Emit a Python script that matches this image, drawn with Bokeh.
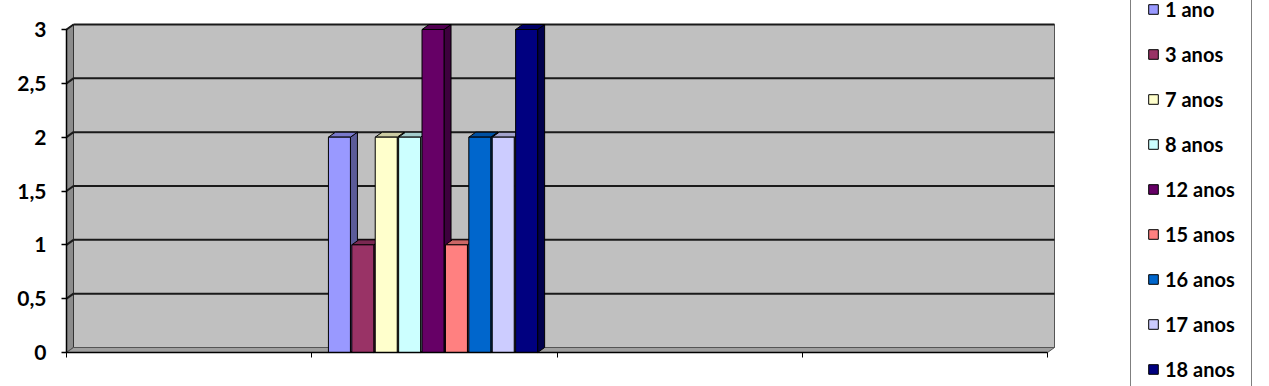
from bokeh.plotting import figure
from bokeh.models import FixedTicker, Legend, LegendItem, ColumnDataSource
from bokeh.embed import file_html
from bokeh.resources import INLINE

# ---- data ----
series = ["1 ano", "3 anos", "7 anos", "8 anos", "12 anos", "15 anos", "16 anos", "17 anos", "18 anos"]
values = [2, 1, 2, 2, 3, 1, 2, 2, 3]
colors = ["#9999FF", "#993366", "#FFFFCC", "#CCFFFF", "#660066", "#FF8080", "#0066CC", "#CCCCFF", "#000080"]
n_categories = 4
data_category_index = 1          # data sits in the 2nd (unlabelled) category
y_ticks = [0, 0.5, 1, 1.5, 2, 2.5, 3]
y_tick_labels = ["0", "0,5", "1", "1,5", "2", "2,5", "3"]
y_max = 3

# ---- layout constants (pixels) ----
W, H = 1269, 386
ORIGIN_X, ORIGIN_Y = 66, 352            # pixel position of (0, 0)
PX_X = (1047 - 66) / n_categories       # px per category unit
PX_Y = (352 - 29) / y_max               # px per value unit
DEPTH_X, DEPTH_Y = 7, 5                 # 3D depth in px
dx, dy = DEPTH_X / PX_X, DEPTH_Y / PX_Y
BAR_W = 22 / PX_X
BAR_STEP = 23.4 / PX_X

x_start, x_end = -ORIGIN_X / PX_X, (W - ORIGIN_X) / PX_X
y_start, y_end = -(H - ORIGIN_Y) / PX_Y, ORIGIN_Y / PX_Y


def shade(hexcol, f):
    r, g, b = int(hexcol[1:3], 16), int(hexcol[3:5], 16), int(hexcol[5:7], 16)
    return "#%02x%02x%02x" % (int(r * f), int(g * f), int(b * f))


p = figure(width=W, height=H, output_backend="svg", toolbar_location=None,
           x_range=(x_start, x_end), y_range=(y_start, y_end),
           min_border_left=0, min_border_right=0, min_border_top=0, min_border_bottom=0)
p.outline_line_color = None
p.grid.visible = False
p.background_fill_color = "white"
p.border_fill_color = "white"

# walls
p.quad(left=[dx], right=[n_categories + dx], bottom=[dy], top=[y_max + dy],
       fill_color="#C0C0C0", line_color="#555555", line_width=1)
p.patches(xs=[[0, dx, dx, 0]], ys=[[0, dy, y_max + dy, y_max]],
          fill_color="#8C8C8C", line_color="#333333", line_width=1)
p.patches(xs=[[0, n_categories, n_categories + dx, dx]], ys=[[0, 0, dy, dy]],
          fill_color="#A0A0A0", line_color="#555555", line_width=1)
# gridlines on back wall
gy = [t + dy for t in y_ticks[1:]]
p.segment(x0=[dx] * len(gy), x1=[n_categories + dx] * len(gy), y0=gy, y1=gy,
          line_color="#1a1a1a", line_width=2)
p.segment(x0=[0] * len(y_ticks[1:]), x1=[dx] * len(y_ticks[1:]), y0=y_ticks[1:], y1=gy,
          line_color="#1a1a1a", line_width=2)

# bars
center = data_category_index + 0.4945
items = []
for i, (s, v, c) in enumerate(zip(series, values, colors)):
    xc = center + (i - (len(series) - 1) / 2) * BAR_STEP
    xl, xr = xc - BAR_W / 2, xc + BAR_W / 2
    p.patches(xs=[[xr, xr + dx, xr + dx, xr]], ys=[[0, dy, v + dy, v]],
              fill_color=shade(c, 0.6), line_color="black", line_width=1)
    p.patches(xs=[[xl, xr, xr + dx, xl + dx]], ys=[[v, v, v + dy, v + dy]],
              fill_color=shade(c, 0.8), line_color="black", line_width=1)
    src = ColumnDataSource(dict(left=[xl], right=[xr], top=[v], bottom=[0]))
    r = p.quad(left="left", right="right", top="top", bottom="bottom", source=src,
               fill_color=c, line_color="black", line_width=1)
    items.append(LegendItem(label=s, renderers=[r]))

# axes (pinned at the data origin)
p.yaxis.fixed_location = 0
p.yaxis.ticker = FixedTicker(ticks=y_ticks)
p.yaxis.major_label_overrides = {t: l for t, l in zip(y_ticks, y_tick_labels)}
p.yaxis.bounds = (0, y_max)
p.yaxis.minor_tick_line_color = None
p.yaxis.major_tick_out = 5
p.yaxis.major_tick_in = 0
p.yaxis.major_label_standoff = 15
p.yaxis.major_label_text_font = "Lato"
p.yaxis.major_label_text_font_style = "bold"
p.yaxis.major_label_text_font_size = "21px"
p.yaxis.major_label_text_color = "black"
p.yaxis.axis_line_color = "black"
p.yaxis.axis_line_width = 1.5
p.yaxis.major_tick_line_width = 1.5

p.xaxis.fixed_location = 0
p.xaxis.ticker = FixedTicker(ticks=list(range(n_categories + 1)))
p.xaxis.major_label_overrides = {t: "" for t in range(n_categories + 1)}
p.xaxis.bounds = (0, n_categories)
p.xaxis.minor_tick_line_color = None
p.xaxis.major_tick_out = 5
p.xaxis.major_tick_in = 0
p.xaxis.axis_line_color = "black"
p.xaxis.axis_line_width = 1.5
p.xaxis.major_tick_line_width = 1

legend = Legend(items=items, location=(1130, -12))
legend.border_line_color = "black"
legend.border_line_width = 1.5
legend.background_fill_color = "white"
legend.label_text_font = "Lato"
legend.label_text_font_style = "bold"
legend.label_text_font_size = "20px"
legend.label_text_color = "black"
legend.label_height = 24
legend.glyph_height = 12
legend.glyph_width = 12
legend.label_standoff = 6
legend.spacing = 21
legend.padding = 16
legend.margin = 0
p.add_layout(legend)

open("out.html", "w").write(file_html(p, INLINE))
